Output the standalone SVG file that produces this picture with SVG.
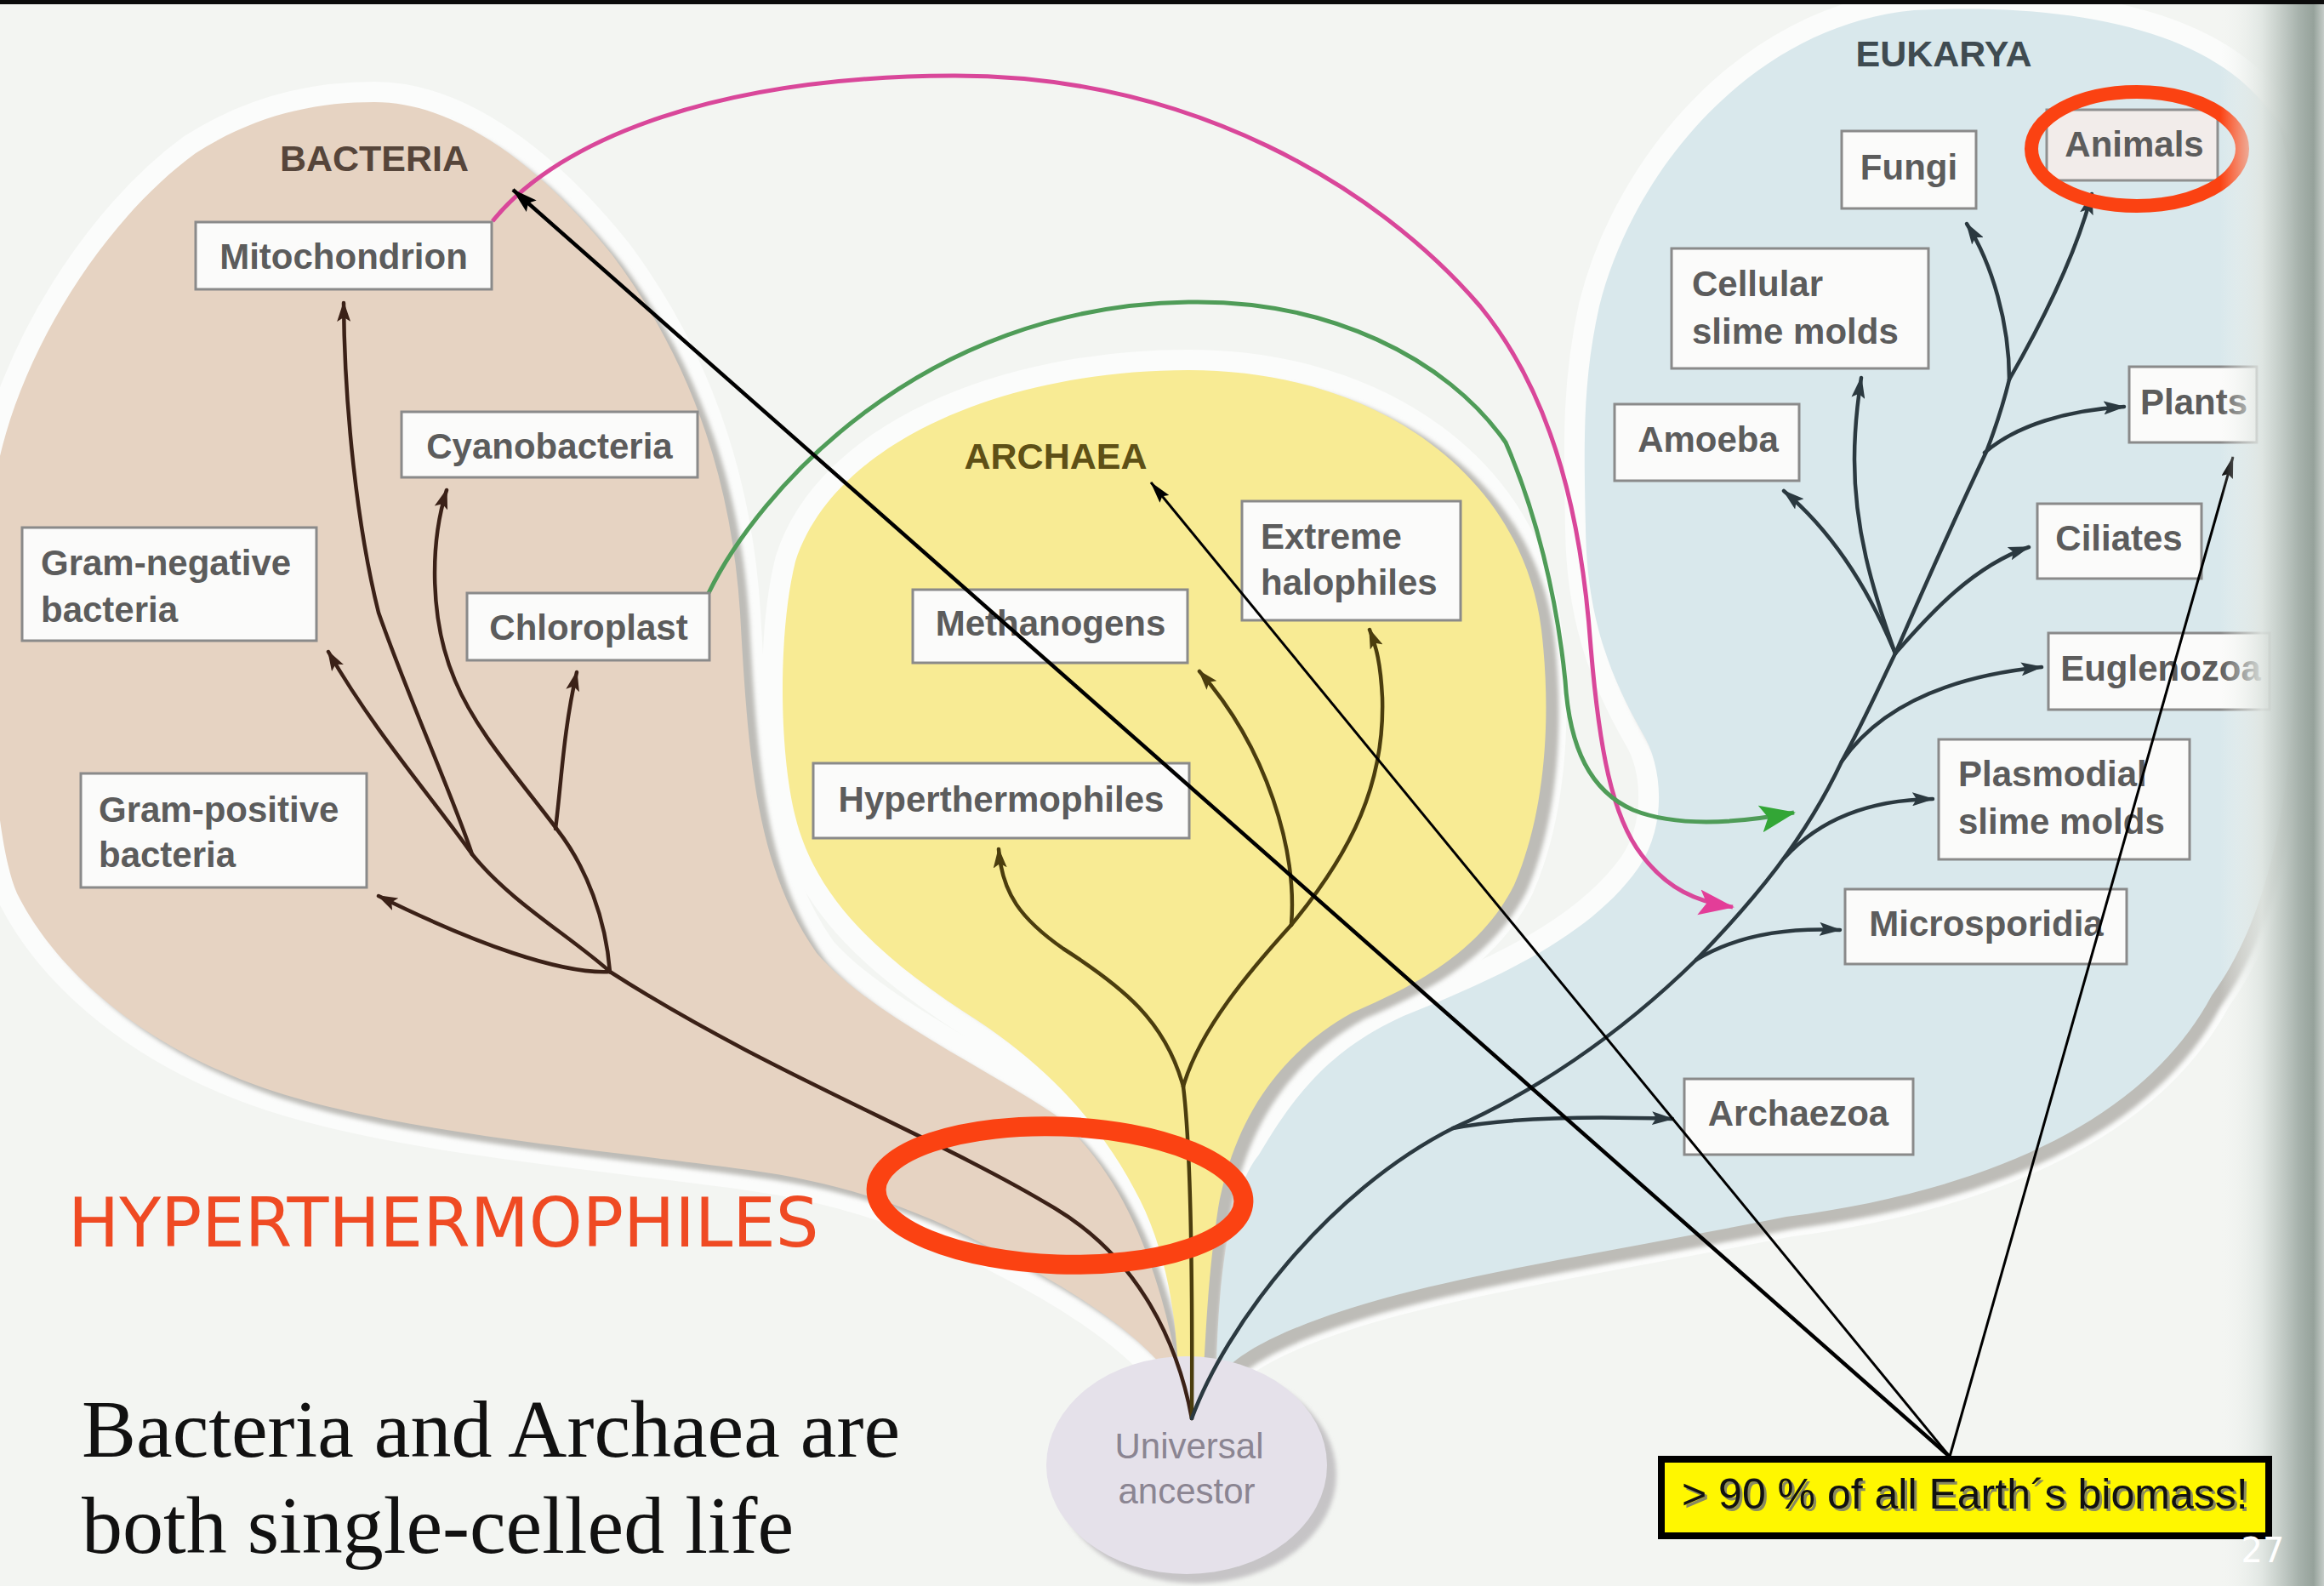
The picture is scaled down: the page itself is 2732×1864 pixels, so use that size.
<svg xmlns="http://www.w3.org/2000/svg" width="2732" height="1864" viewBox="0 0 2732 1864">
<defs>
<style>
.box{fill:#fbfbfa;stroke:#8a8a8a;stroke-width:3}
.lbl{font-family:"Liberation Sans",Arial,sans-serif;font-weight:bold;font-size:42px;fill:#5c5c5c}
.mid{text-anchor:middle}
.dom{font-family:"Liberation Sans",Arial,sans-serif;font-weight:bold;font-size:43px;text-anchor:middle}
.br{fill:none;stroke-width:4.5;stroke-linecap:round}
.bac{stroke:#3b2117}
.arc{stroke:#4b3d0e}
.euk{stroke:#2b3940}
.ptr{fill:none;stroke:#000}
.halo{fill:#fbfcfb;stroke:#fbfcfb;stroke-width:48;stroke-linejoin:round}
.shd{fill:#bdbcb7;filter:url(#blur)}
</style>
<filter id="blur" x="-5%" y="-5%" width="110%" height="110%"><feGaussianBlur stdDeviation="2.5"/></filter>
<linearGradient id="edge" x1="0" y1="0" x2="1" y2="0">
<stop offset="0" stop-color="#f2f5f2" stop-opacity="0"/>
<stop offset="0.4" stop-color="#dfe5e1" stop-opacity="0.9"/>
<stop offset="0.75" stop-color="#a8b3ad"/>
<stop offset="0.9" stop-color="#96a29b"/>
<stop offset="1" stop-color="#c5ccc8"/>
</linearGradient>
<marker id="mBr" viewBox="0 0 24 16" refX="22" refY="8" markerWidth="24" markerHeight="16" markerUnits="userSpaceOnUse" orient="auto"><path d="M0,0 L24,8 L0,16 L5,8 Z" fill="#3b2117"/></marker>
<marker id="mOl" viewBox="0 0 24 16" refX="22" refY="8" markerWidth="24" markerHeight="16" markerUnits="userSpaceOnUse" orient="auto"><path d="M0,0 L24,8 L0,16 L5,8 Z" fill="#4b3d0e"/></marker>
<marker id="mSl" viewBox="0 0 26 16" refX="24" refY="8" markerWidth="26" markerHeight="16" markerUnits="userSpaceOnUse" orient="auto"><path d="M0,0 L26,8 L0,16 L5,8 Z" fill="#2b3940"/></marker>
<marker id="mBk" viewBox="0 0 26 14" refX="25" refY="7" markerWidth="26" markerHeight="14" markerUnits="userSpaceOnUse" orient="auto"><path d="M0,0 L26,7 L0,14 L4,7 Z" fill="#000"/></marker>
<marker id="mBkT" viewBox="0 0 30 18" refX="29" refY="9" markerWidth="30" markerHeight="18" markerUnits="userSpaceOnUse" orient="auto"><path d="M0,0 L30,9 L0,18 L5,9 Z" fill="#000"/></marker>
<marker id="mPk" viewBox="0 0 42 32" refX="40" refY="16" markerWidth="42" markerHeight="32" markerUnits="userSpaceOnUse" orient="auto"><path d="M0,1 L42,16 L0,31 L9,16 Z" fill="#e33d98"/></marker>
<marker id="mGr" viewBox="0 0 42 34" refX="40" refY="17" markerWidth="42" markerHeight="34" markerUnits="userSpaceOnUse" orient="auto"><path d="M0,1 L42,17 L0,33 L9,17 Z" fill="#33a636"/></marker>
<path id="pBac" d="M440,120 C540,120 640,200 720,300 C810,420 860,560 870,720 C880,900 890,1020 960,1120 C1020,1190 1150,1250 1240,1310 C1320,1380 1360,1480 1385,1610 L1370,1610 C1330,1560 1250,1510 1180,1475 C1080,1420 990,1390 880,1375 C700,1350 450,1330 300,1275 C150,1220 60,1130 20,1050 C-20,960 -20,600 -5,560 C20,420 120,260 230,180 C300,135 370,120 440,120 Z"/>
<path id="pArc" d="M1397,435 C1620,435 1790,560 1812,740 C1825,850 1815,960 1780,1040 C1740,1120 1660,1160 1590,1190 C1500,1240 1450,1320 1432,1420 C1420,1500 1418,1560 1415,1610 L1385,1610 C1382,1540 1370,1470 1340,1410 C1300,1330 1240,1260 1150,1200 C1040,1130 960,1060 935,960 C915,880 915,740 935,660 C980,520 1180,435 1397,435 Z"/>
<path id="pEuk" d="M2250,12 C2450,2 2620,40 2680,150 C2710,250 2705,600 2700,750 C2695,900 2680,1060 2600,1170 C2520,1320 2330,1400 2100,1430 C1900,1470 1700,1500 1580,1540 C1510,1563 1465,1585 1440,1610 L1430,1610 C1432,1500 1445,1400 1480,1357 C1520,1290 1560,1235 1650,1194 C1760,1150 1870,1100 1926,1020 C1960,970 1955,900 1930,860 C1890,790 1865,720 1864,620 C1862,520 1860,450 1880,360 C1920,200 2060,30 2250,12 Z"/>
</defs>

<rect x="0" y="0" width="2732" height="1864" fill="#f3f5f2"/>

<g id="domains">
<use href="#pBac" class="halo"/>
<use href="#pArc" class="halo"/>
<use href="#pEuk" class="halo"/>
<use href="#pBac" class="shd" transform="translate(11,9)"/>
<use href="#pArc" class="shd" transform="translate(15,7)"/>
<use href="#pEuk" class="shd" transform="translate(10,14)"/>
<use href="#pBac" fill="#e6d3c2"/>
<use href="#pArc" fill="#f8eb94"/>
<use href="#pEuk" fill="#d9e8ec"/>
</g>

<g id="universal-ancestor">
<ellipse cx="1406" cy="1733" rx="165" ry="128" fill="#c6c4c6" filter="url(#blur)"/>
<ellipse cx="1395" cy="1722" rx="165" ry="128" fill="#e5e1ea"/>
<text x="1398" y="1714" font-family="Liberation Sans, Arial, sans-serif" font-size="42" fill="#8b8592" text-anchor="middle">Universal</text>
<text x="1395" y="1767" font-family="Liberation Sans, Arial, sans-serif" font-size="42" fill="#8b8592" text-anchor="middle">ancestor</text>
</g>

<g id="connectors">
<!-- Bacteria -->
<path class="br bac" d="M1401,1667 C1385,1580 1340,1480 1240,1420 C1100,1335 900,1260 717,1142"/>
<path class="br bac" marker-end="url(#mBr)" d="M717,1142 C660,1145 560,1110 445,1053"/>
<path class="br bac" d="M717,1142 C670,1100 600,1060 555,1004"/>
<path class="br bac" marker-end="url(#mBr)" d="M555,1004 C530,930 480,820 445,720 C420,620 405,480 404,356"/>
<path class="br bac" marker-end="url(#mBr)" d="M555,1004 C510,940 440,860 386,766"/>
<path class="br bac" marker-end="url(#mBr)" d="M717,1142 C712,1080 690,1020 655,975 C610,915 560,860 535,800 C505,730 505,640 525,576"/>
<path class="br bac" marker-end="url(#mBr)" d="M653,974 C660,920 662,860 678,790"/>
<!-- Archaea -->
<path class="br arc" d="M1401,1667 C1402,1500 1400,1350 1391,1277"/>
<path class="br arc" marker-end="url(#mOl)" d="M1391,1277 C1370,1200 1320,1160 1250,1115 C1200,1080 1178,1050 1174,998"/>
<path class="br arc" d="M1391,1277 C1410,1210 1470,1140 1518,1087"/>
<path class="br arc" marker-end="url(#mOl)" d="M1518,1087 C1525,1000 1490,880 1410,789"/>
<path class="br arc" marker-end="url(#mOl)" d="M1518,1087 C1590,1000 1628,920 1625,820 C1623,780 1618,760 1610,740"/>
<!-- Eukarya -->
<path class="br euk" d="M1401,1667 C1440,1560 1560,1400 1710,1325 C1800,1285 1900,1220 1994,1128 C2060,1060 2120,990 2165,895 C2190,850 2210,805 2228,768 C2262,690 2300,605 2335,531 C2345,505 2355,475 2362,446"/>
<path class="br euk" marker-end="url(#mSl)" d="M1708,1326 C1780,1312 1880,1312 1966,1315"/>
<path class="br euk" marker-end="url(#mSl)" d="M1994,1128 C2040,1100 2100,1090 2163,1093"/>
<path class="br euk" marker-end="url(#mSl)" d="M2098,1008 C2140,962 2200,940 2272,939"/>
<path class="br euk" marker-end="url(#mSl)" d="M2165,895 C2210,830 2290,795 2400,784"/>
<path class="br euk" marker-end="url(#mSl)" d="M2228,768 C2270,720 2320,665 2385,643"/>
<path class="br euk" marker-end="url(#mSl)" d="M2228,768 C2200,700 2160,630 2097,577"/>
<path class="br euk" marker-end="url(#mSl)" d="M2228,768 C2200,690 2180,620 2180,540 C2180,500 2184,470 2188,444"/>
<path class="br euk" marker-end="url(#mSl)" d="M2333,532 C2370,500 2430,482 2497,478"/>
<path class="br euk" marker-end="url(#mSl)" d="M2362,446 C2400,380 2440,300 2459,228"/>
<path class="br euk" marker-end="url(#mSl)" d="M2362,446 C2362,380 2342,310 2312,263"/>
<!-- endosymbiosis -->
<path fill="none" stroke="#d9479a" stroke-width="5" marker-end="url(#mPk)" d="M579,260 C660,160 850,90 1120,89 C1400,88 1620,220 1740,360 C1830,470 1860,620 1870,760 C1880,880 1895,960 1930,1005 C1960,1045 1995,1060 2037,1066"/>
<path fill="none" stroke="#4f9c58" stroke-width="5" marker-end="url(#mGr)" d="M833,697 C890,580 1080,360 1397,355 C1560,352 1700,420 1770,520 C1805,600 1830,700 1840,800 C1845,880 1870,930 1920,952 C1970,972 2040,968 2109,955"/>
</g>

<g id="label-bacteria"><text class="dom" x="440" y="201" fill="#56453a">BACTERIA</text></g>
<g id="label-archaea"><text class="dom" x="1241" y="551" fill="#5e5016">ARCHAEA</text></g>
<g id="label-eukarya"><text class="dom" x="2285" y="78" fill="#3f4b51">EUKARYA</text></g>

<g id="mitochondrion"><rect class="box" x="230" y="261" width="348" height="79"/><text class="lbl mid" x="404" y="316">Mitochondrion</text></g>
<g id="cyanobacteria"><rect class="box" x="472" y="484" width="348" height="77"/><text class="lbl mid" x="646" y="539">Cyanobacteria</text></g>
<g id="gram-negative"><rect class="box" x="26" y="620" width="346" height="133"/><text class="lbl" x="48" y="676">Gram-negative</text><text class="lbl" x="48" y="731">bacteria</text></g>
<g id="chloroplast"><rect class="box" x="549" y="697" width="285" height="79"/><text class="lbl mid" x="692" y="752">Chloroplast</text></g>
<g id="gram-positive"><rect class="box" x="95" y="909" width="336" height="134"/><text class="lbl" x="116" y="966">Gram-positive</text><text class="lbl" x="116" y="1019">bacteria</text></g>
<g id="methanogens"><rect class="box" x="1073" y="693" width="323" height="86"/><text class="lbl mid" x="1235" y="747">Methanogens</text></g>
<g id="extreme-halophiles"><rect class="box" x="1460" y="589" width="257" height="140"/><text class="lbl" x="1482" y="645">Extreme</text><text class="lbl" x="1482" y="699">halophiles</text></g>
<g id="hyperthermophiles"><rect class="box" x="956" y="897" width="442" height="88"/><text class="lbl mid" x="1177" y="954">Hyperthermophiles</text></g>
<g id="fungi"><rect class="box" x="2165" y="154" width="158" height="91"/><text class="lbl mid" x="2244" y="211">Fungi</text></g>
<g id="animals"><rect x="2406" y="129" width="201" height="83" fill="#f2ecea" stroke="#8f8f8f" stroke-width="3"/><text class="lbl mid" x="2509" y="184">Animals</text></g>
<g id="cellular-slime-molds"><rect class="box" x="1965" y="292" width="302" height="141"/><text class="lbl" x="1989" y="348">Cellular</text><text class="lbl" x="1989" y="404">slime molds</text></g>
<g id="amoeba"><rect class="box" x="1898" y="475" width="217" height="90"/><text class="lbl mid" x="2008" y="531">Amoeba</text></g>
<g id="plants"><rect class="box" x="2503" y="431" width="150" height="89"/><text class="lbl mid" x="2579" y="487">Plants</text></g>
<g id="ciliates"><rect class="box" x="2395" y="592" width="193" height="88"/><text class="lbl mid" x="2491" y="647">Ciliates</text></g>
<g id="euglenozoa"><rect class="box" x="2408" y="744" width="260" height="90"/><text class="lbl mid" x="2540" y="800" font-size="40">Euglenozoa</text></g>
<g id="plasmodial-slime-molds"><rect class="box" x="2279" y="869" width="295" height="141"/><text class="lbl" x="2302" y="924">Plasmodial</text><text class="lbl" x="2302" y="980">slime molds</text></g>
<g id="microsporidia"><rect class="box" x="2169" y="1045" width="331" height="88"/><text class="lbl mid" x="2335" y="1100">Microsporidia</text></g>
<g id="archaezoa"><rect class="box" x="1980" y="1268" width="269" height="89"/><text class="lbl mid" x="2114" y="1323">Archaezoa</text></g>

<g id="annotations">
<ellipse cx="1246" cy="1405" rx="216" ry="81" fill="none" stroke="#fb4212" stroke-width="23" transform="rotate(2 1246 1405)"/>
<ellipse cx="2512" cy="175" rx="124" ry="67" fill="none" stroke="#fb4212" stroke-width="16"/>
<text x="80" y="1465" font-family="DejaVu Sans, Verdana, sans-serif" font-size="80" fill="#ef4a23">HYPERTHERMOPHILES</text>
<text x="96" y="1712" font-family="Liberation Serif, Times New Roman, serif" font-size="96" fill="#111">Bacteria and Archaea are</text>
<text x="96" y="1825" font-family="Liberation Serif, Times New Roman, serif" font-size="96" fill="#111">both single-celled life</text>
</g>

<g id="pointers">
<path class="ptr" stroke-width="4.5" marker-end="url(#mBkT)" d="M2292,1712 L603,223"/>
<path class="ptr" stroke-width="3" marker-end="url(#mBk)" d="M2292,1712 L1353,567"/>
<path class="ptr" stroke-width="3" marker-end="url(#mBk)" d="M2292,1712 L2625,537"/>
</g>

<rect x="2610" y="0" width="122" height="1864" fill="url(#edge)"/>
<rect x="0" y="0" width="2732" height="5" fill="#0b0b0b"/>

<g id="biomass-box">
<rect x="1953" y="1715" width="714" height="90" fill="#fff700" stroke="#000" stroke-width="8"/>
<text x="1980" y="1776" font-family="Liberation Sans, Arial, sans-serif" font-size="50" fill="#8a8a60">&gt; 90 % of all Earth´s biomass!</text>
<text x="1977" y="1773" font-family="Liberation Sans, Arial, sans-serif" font-size="50" fill="#111">&gt; 90 % of all Earth´s biomass!</text>
</g>
<g id="page-number"><text x="2660" y="1836" font-family="DejaVu Sans, sans-serif" font-size="40" fill="#ffffff" text-anchor="middle">27</text></g>
</svg>
